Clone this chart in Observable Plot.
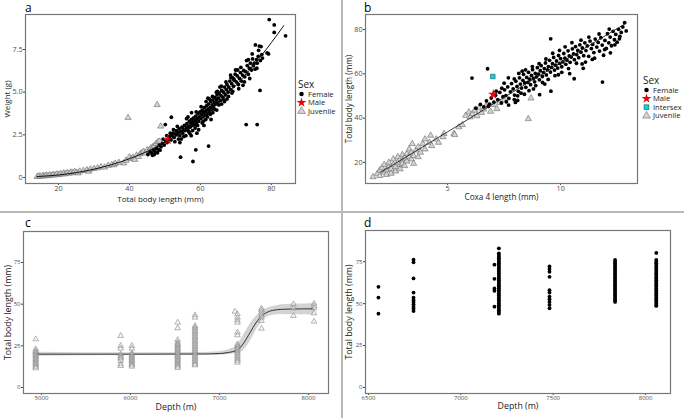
<!DOCTYPE html>
<html><head><meta charset="utf-8">
<script src="https://cdn.jsdelivr.net/npm/d3@7"></script>
<script src="https://cdn.jsdelivr.net/npm/@observablehq/plot@0.6"></script>
<style>
body{margin:0;background:#fff;font-family:"Open Sans",sans-serif;}
#wrap{position:relative;width:684px;height:418px;overflow:hidden;background:#fff}
.panel{position:absolute}
.letter{position:absolute;font-size:12px;line-height:12px;color:#000;font-family:"Open Sans",sans-serif}
.divv{position:absolute;left:341px;top:0;width:1.5px;height:418px;background:#b8b8b8}
.divh{position:absolute;left:0;top:211px;width:684px;height:1.5px;background:#b8b8b8}
</style></head>
<body><div id="wrap"><div class="divv"></div><div class="divh"></div></div>
<script>
// ---------- Panel a: weight vs total body length ----------
const aFemale = [[45.2,1.35],[45.8,1.5],[46.3,1.42],[46.8,1.6],[47.2,1.52],[47.6,1.72],[48.1,1.65],[48.4,1.9],[48.9,1.8],[49.3,2.0],[49.8,1.9],[50.2,2.15],[50.6,2.05],
[51.0,2.25],[51.3,2.4],[51.7,2.2],[52.0,2.45],[52.3,2.6],[52.6,2.35],[52.9,2.55],[53.2,2.75],[53.4,2.5],[53.7,2.65],[54.0,2.85],[54.2,2.45],[54.5,2.7],[54.8,2.95],[55.0,2.6],[55.2,2.8],[55.5,3.05],[55.7,2.75],[52.8,2.1],[54.2,2.05],
[56.0,2.9],[56.2,3.15],[56.4,2.8],[56.7,3.0],[56.9,3.3],[57.1,2.95],[57.3,3.15],[57.5,3.4],[57.7,3.05],[57.9,3.25],[58.1,3.5],[58.3,3.1],[58.5,3.35],[58.7,3.6],[58.9,3.2],[59.1,3.45],[59.3,3.75],[59.5,3.3],[59.7,3.55],[59.9,3.85],[57.4,2.45],[56.7,2.7],[58.5,2.9],[59.5,2.8],[57.5,3.8],[56.5,3.55],
[60.1,3.45],[60.3,3.7],[60.5,3.95],[60.7,3.55],[60.9,3.8],[61.1,4.1],[61.3,3.65],[61.5,3.9],[61.7,4.2],[61.9,3.75],[62.1,4.0],[62.3,4.3],[62.5,3.85],[62.7,4.1],[62.9,4.45],[63.1,4.0],[63.3,4.25],[63.5,4.55],[63.7,4.15],[63.9,4.4],[64.1,4.7],[64.3,4.3],[64.5,4.55],[64.7,4.85],[64.9,4.4],[60.5,3.2],[61.5,3.4],[62.5,4.6],[63.5,3.8],[64.5,5.0],
[65.1,4.65],[65.3,4.95],[65.6,4.5],[65.8,4.8],[66.0,5.1],[66.3,4.7],[66.5,5.0],[66.8,5.3],[67.0,4.85],[67.3,5.15],[67.5,5.45],[67.8,5.0],[68.0,5.3],[68.3,5.65],[68.5,5.15],[68.8,5.5],[69.0,5.85],[69.3,5.35],[69.5,5.7],[69.8,6.05],[66.0,4.3],[67.5,4.6],[68.5,6.0],[69.4,5.78],[65.5,5.3],
[70.1,5.6],[70.4,5.95],[70.7,5.45],[71.0,5.8],[71.3,6.15],[71.6,5.65],[71.9,6.0],[72.2,6.27],[72.5,5.9],[72.8,6.2],[73.2,6.56],[73.5,6.05],[73.8,6.4],[74.1,6.7],[74.4,6.3],[74.6,7.24],[74.9,6.55],[70.5,6.3],[72.0,5.4],[73.5,6.9],
[75.2,6.7],[75.5,7.77],[75.8,6.9],[76.0,6.7],[76.3,7.1],[76.6,7.7],[76.9,6.85],[77.1,7.67],[77.3,7.2],[76.0,3.1],[76.8,5.1],[72.9,3.1],[75.4,6.35],
[79.2,7.24],[79.4,9.25],[80.8,8.94],[80.8,8.5],[84.0,8.3],[78.8,7.3],
[53.5,3.0],[55.3,2.4],[56.1,3.45],[57.8,2.75],[58.8,3.85],[59.2,3.05],[60.2,4.15],[60.8,3.3],[61.6,4.45],[62.0,3.55],[62.8,3.7],[63.4,4.75],[64.0,4.0],[64.8,5.05],[65.2,4.25],[65.9,5.35],[66.6,4.55],[67.2,5.6],[67.9,4.75],[68.6,5.85],[69.1,5.05],[69.9,6.3],[70.8,5.2],[71.4,6.45],[72.4,5.6],[73.0,6.85],[73.9,5.8],[74.7,6.95],[75.9,6.4],[76.4,7.45],[77.5,7.0],[62.1,4.65],[63.0,3.4],[64.6,3.95],[66.8,4.45],[68.9,4.95],[61.0,3.05],[59.0,2.6],[57.0,2.6],[55.9,2.45],[54.6,2.25],[53.8,2.25],[52.4,2.8],[51.5,2.6],[50.5,2.45],[49.5,2.25],[48.6,1.6],[47.9,1.45],[47.0,1.35],[46.5,1.3],
[51.8,3.53],[50.1,3.1],[54.4,1.19],[57.9,0.94],[58.7,1.62],[62.3,1.84]];
const aMale = [[50.8,2.2]];
const aJuvenile = [[14,0.05],[14.5,0.09],[15,0.06],[15.6,0.11],[16,0.08],[16.5,0.13],[17,0.1],[17.5,0.15],[18,0.12],[18.5,0.17],[19,0.14],[19.5,0.2],[20,0.16],[20.5,0.22],[21,0.19],[21.5,0.25],[22,0.21],[22.5,0.28],[23,0.24],[23.5,0.31],[24,0.27],[24.5,0.34],[25,0.3],[25.5,0.26],[26,0.36],[27,0.4],[28,0.44],[28.5,0.36],[29,0.48],[30,0.52],[31,0.56],[32,0.62],[33,0.6],[34,0.7],[35,0.74],[35.6,0.74],[36,0.82],[37,0.88],[38.4,0.84],[39,1.0],[40,1.2],[40.5,1.1],[41,1.18],[41.5,1.05],[42,1.3],[42.5,1.22],[43,1.38],[43.5,1.45],[44,1.52],[44.5,1.42],[45,1.62],[45.5,1.58],[46,1.72],[46.5,1.78],[47,1.85],[47.5,1.98],[48,2.08],[48.5,2.12],
[39.6,3.5],[47.8,4.26],[48.8,3.0]];
const aCurveL = [14, 20, 30, 40, 50, 60, 70, 80, 83.5];
const aCurveW = [0.06, 0.15, 0.49, 1.1, 2.05, 3.45, 5.4, 7.9, 8.9];

// ---------- Panel b: total body length vs coxa 4 length ----------
const bFemale = [[6.25,44.5],[6.45,46.2],[6.6,45.1],[6.72,47.8],[6.85,46.3],[6.93,49.1],[7.05,47.2],[7.12,50.3],[7.22,48.4],[7.31,51.6],[7.38,46.9],[7.45,49.7],[7.52,52.8],[7.58,50.2],[7.66,54.1],[7.71,48.9],[7.78,51.9],[7.83,55.6],[7.9,53.2],[7.96,50.4],[8.02,56.7],[8.07,54.3],[8.13,52.1],[8.18,58.2],[8.22,55.4],[8.27,53.6],[8.33,57.1],[8.36,59.8],[8.41,55.9],[8.46,53.9],[8.5,58.4],[8.55,56.2],[8.58,60.7],[8.63,57.6],[8.67,55.1],[8.71,59.3],[8.76,61.9],[8.8,57.9],[8.85,56.4],[8.88,60.2],[8.93,58.6],[8.97,62.8],[9.02,59.9],[9.06,57.3],[9.1,61.4],[9.14,63.7],[9.19,58.8],[9.24,60.6],[9.28,62.4],[9.33,64.9],[9.37,59.5],[9.42,61.8],[9.46,63.3],[9.51,66.1],[9.55,60.8],[9.6,62.9],[9.64,64.6],[9.69,67.4],[9.73,61.7],[9.78,63.9],[9.82,65.8],[9.87,62.6],[9.91,68.3],[9.96,64.7],[10.0,66.9],[10.05,63.2],[10.1,65.4],[10.14,69.2],[10.19,67.1],[10.23,64.3],[10.28,66.2],[10.33,70.4],[10.38,68.1],[10.42,65.2],[10.47,67.6],[10.52,71.3],[10.57,69.0],[10.61,66.4],[10.66,72.3],[10.71,68.7],[10.76,70.6],[10.8,67.3],[10.85,73.1],[10.9,69.8],[10.96,71.7],[11.02,68.2],[11.07,74.0],[11.12,70.5],[11.18,72.6],[11.24,67.9],[11.3,74.8],[11.36,71.4],[11.42,73.3],[11.47,69.6],[11.53,75.7],[11.6,72.1],[11.66,74.2],[11.72,70.3],[11.78,76.3],[11.84,73.0],[11.9,68.4],[11.96,75.1],[12.02,71.5],[12.07,78.1],[12.13,74.0],[12.19,76.6],[12.25,72.7],[12.32,79.2],[12.38,75.4],[12.44,77.8],[12.5,74.3],[12.56,80.1],[12.62,76.9],[12.68,78.7],[12.75,81.2],[12.83,83.1],[12.9,79.4],
[6.8,45.3],[7.15,52.2],[7.4,53.5],[7.6,47.4],[7.95,57.7],[8.3,61.2],[8.1,50.1],
[7.5,55.8],[7.7,45.9],[7.95,48.4],[8.15,60.2],[8.25,51.3],[8.45,61.8],[8.6,52.4],[8.75,63.3],[8.9,54.7],[9.05,64.6],[9.2,56.1],[9.35,66.7],[9.45,57.5],[9.65,69.3],[9.75,59.2],[9.95,70.6],[10.05,60.7],[10.2,72.2],[10.35,62.4],[10.5,74.1],[10.7,64.8],[10.9,75.2],[11.1,65.3],[11.25,76.6],[11.5,67.1],[11.7,78.0],[11.95,71.0],[12.15,80.2],[12.4,73.1],[12.6,75.8],[12.2,69.5],[11.0,62.5],[10.4,60.1],[9.9,59.6],[9.3,55.4],[8.8,53.2],[8.4,50.8],[8.0,47.1],
[6.77,62.3],[6.08,58.1],[9.56,75.8],[11.85,56.3],[10.6,57.8],[9.07,50.6],[9.57,52.2],[7.69,58.2],[8.1,48],[11.4,66.5],[10.95,64.5]];
const bMale = [[7.02,50.7]];
const bIntersex = [[7.0,58.8]];
const bJuvenile = [[1.7,13.5],[1.9,15],[2.0,16.5],[2.0,14],[2.1,17.5],[2.2,15.5],[2.2,19],[2.3,16.5],[2.3,14.5],[2.4,18],[2.4,20],[2.5,17],[2.5,15],[2.6,19],[2.6,21.5],[2.7,18],[2.7,16],[2.8,20],[2.8,22.5],[2.9,19],[2.9,17],[3.0,21],[3.0,23.5],[3.0,19.5],[3.1,22],[3.1,18.5],[3.2,24],[3.2,20.5],[3.3,22.5],[3.3,26],[3.4,21.5],[3.44,28.4],[3.4,24.5],[3.5,23],[3.5,19.5],[3.6,25.5],[3.7,22.5],[3.7,27],[3.8,24.5],[3.9,28.5],[4.0,26],[4.0,30.5],[4.2,29],[4.25,32.2],[4.3,27.5],[4.5,30.5],[4.6,29],[4.84,33],[4.8,31.5],[5.28,33],[5.32,32.5],[5.5,36],[5.65,37],[5.8,41.2],[5.94,42.7],[6.0,40.5],[6.1,42],[6.2,43.5],[6.3,41],[6.4,44.5],[6.5,42.5],[6.6,44],[6.7,45.5],[6.9,43],[7.0,46],[7.18,44.2],[7.3,47],[7.5,48],
[8.57,39.7],[8.69,49]];
const bLineX = [2.05, 5, 10, 12.9];
const bLineY = [15.6, 33.8, 65, 82.9];

// ---------- Panel c: juvenile length vs depth ----------
const cDepths = [4935, 5890, 6015, 6530, 6725, 7175, 7202, 7472, 7831, 8063];
const cLengths = [
 [29, 23, 22, 21.2, 20.4, 19.6, 18.8, 18, 17.2, 16.4, 15.6, 14.8, 14, 13.2, 12.4, 11.6],
 [31, 25, 23.4, 20, 19, 18, 17.4, 16, 14, 13],
 [25, 23.4, 20.6, 19.8, 19, 18.2, 17.4, 16.6, 15.8, 15, 14.2, 13.4, 12.6],
 [39, 35.6, 28.6, 27, 26.2, 25.4, 24.6, 23.8, 23, 22.2, 21.4, 20.6, 19.8, 19, 18.2, 17.4, 16.6, 15.8, 15, 14.2, 13.4, 12.6, 11.8],
 [43.4, 42, 37, 36, 35, 34, 33, 32, 31, 30, 29, 28, 27, 26, 25, 24, 23, 22, 21, 20, 19, 18, 17, 16, 15, 14, 13.4],
 [45.6],
 [44, 42, 40.4, 39, 33, 31.4, 26, 25, 24, 23, 22, 21, 20, 19, 18, 17, 16, 15],
 [47.4, 46.4, 45, 43.4, 42, 40, 35.4],
 [50, 47.6, 43],
 [50.4, 49, 47.6, 44.6, 39.6]
];
const cCurveDepth = [4935, 6000, 6800, 7000, 7100, 7200, 7250, 7300, 7350, 7400, 7450, 7500, 7550, 7600, 7700, 7800, 8063];
const cCurveLen   = [20, 20, 20.1, 20.4, 21, 22.5, 25, 29, 33.5, 38, 41.5, 44, 45.5, 46.3, 46.9, 47.1, 47.2];
const cBandLow    = [18.8, 19.2, 19.3, 19.4, 19.8, 20.5, 21.5, 24, 28, 33, 37.5, 41, 42.5, 43.3, 43.8, 43.6, 43.5];
const cBandHigh   = [21.2, 20.8, 21, 21.5, 22.6, 25.5, 29.5, 34, 38.5, 42, 44.5, 46.5, 47.8, 48.6, 49.6, 50, 50.3];

// ---------- Panel d: adult length vs depth ----------
const dDepths = [6554, 6744, 7182, 7206, 7480, 7835, 8058];
const dLengths = [
 [60, 53.6, 44],
 [76.2, 74.6, 65, 56.6, 53.6, 52.2, 51, 49.6, 48.2, 47, 45.6],
 [73.2, 64.8, 59, 57.6, 48.2],
 [83, 80, 79, 78, 77, 76, 75, 74, 73, 72, 71, 70, 69, 68, 67, 66, 65, 64, 63, 62, 61, 60, 59, 58, 57, 56, 55, 54, 53, 52, 51, 50, 49, 48, 47, 46, 45, 44],
 [72.2, 70.6, 69, 66, 58, 56.6, 54.2, 52.6, 51, 49.2, 47.2],
 [76, 75, 74, 73, 72, 71, 70, 69, 68, 67, 66, 65, 64, 63, 62, 61, 60, 59, 58, 57, 56, 55, 54, 53, 52, 51],
 [80.2, 76, 75, 74, 73, 72, 71, 70, 69, 68, 67, 66, 65, 64, 63, 62, 61, 60, 59, 58, 57, 56, 55, 54, 53, 52, 51, 50, 49, 48.6]
];

const sexLabels = ["Female", "Male", "Intersex", "Juvenile"];

// ---------- styles ----------
const FONT = "Open Sans";
const triStyle = {symbol: "triangle", r: 2.3, fill: "#d4d4d4", stroke: "#6a6a6a", strokeWidth: 0.6};
const femStyle = {symbol: "circle", r: 1.9, fill: "#000"};
const maleStyle = {symbol: "star", r: 3.2, fill: "#e8000b"};
const interStyle = {symbol: "square", r: 2.6, fill: "#00d8e0", stroke: "#333", strokeWidth: 0.5};

function pairs(xs, ys){ return xs.map((x,i)=>[x, ys[i]]); }
function strips(depths, lens){ return depths.flatMap((d,i)=>lens[i].map(v=>[d, v])); }

function makePanel(o){
  const p = Plot.plot({
    width: o.width, height: o.height,
    marginLeft: o.ml, marginRight: o.mr, marginTop: o.mt, marginBottom: o.mb,
    x: {domain: o.xdomain}, y: {domain: o.ydomain},
    style: {fontFamily: FONT, fontSize: o.tickFont + "px", color: "#4d4d4d", background: "transparent", overflow: "visible"},
    marks: [
      Plot.axisX({ticks: o.xticks, tickSize: 2, tickPadding: 0, tickFormat: o.xfmt, stroke: "#444", label: null}),
      Plot.axisY({ticks: o.yticks, tickSize: 2, tickPadding: 1, tickFormat: o.yfmt, stroke: "#444", label: null}),
      ...o.marks,
      Plot.frame({stroke: "#777", strokeWidth: 1.2}),
      Plot.text([o.xlabel], {frameAnchor: "bottom", lineAnchor: "middle", textAnchor: "middle", dy: o.xdy, fontSize: o.labelFont, fill: "#222", fontFamily: FONT}),
      Plot.text([o.ylabel], {frameAnchor: "left", lineAnchor: "middle", textAnchor: "middle", dx: o.ydx, rotate: -90, fontSize: o.labelFont, fill: "#222", fontFamily: FONT})
    ]
  });
  p.classList.add("panel");
  p.style.left = o.left + "px";
  p.style.top = o.top + "px";
  p.style.position = "absolute";
  document.getElementById("wrap").appendChild(p);
}

function letter(t, left, top){
  const d = document.createElement("div");
  d.className = "letter"; d.textContent = t;
  d.style.left = left + "px"; d.style.top = top + "px";
  document.getElementById("wrap").appendChild(d);
}

function legend(left, top, items){
  const svg = d3.create("svg").attr("width", 44).attr("height", 50)
    .style("position","absolute").style("left", left+"px").style("top", top+"px").style("overflow","visible");
  svg.append("text").attr("x", 1).attr("y", 11.5).text("Sex")
    .attr("font-family", FONT).attr("font-size", 10).attr("fill", "#222");
  const sym = {circle: d3.symbolCircle, star: d3.symbolStar, square: d3.symbolSquare, triangle: d3.symbolTriangle};
  items.forEach((it, i) => {
    const y = 18 + i * 8.6;
    const size = {circle: 16, star: 30, square: 24, triangle: 26}[it.s.symbol];
    svg.append("path").attr("d", d3.symbol(sym[it.s.symbol], size)())
      .attr("transform", `translate(4.5,${y})`)
      .attr("fill", it.s.fill).attr("stroke", it.s.stroke || "none").attr("stroke-width", it.s.strokeWidth || 0);
    svg.append("text").attr("x", 11).attr("y", y).attr("dy", "0.35em").text(it.label)
      .attr("font-family", FONT).attr("font-size", 7.6).attr("fill", "#222");
  });
  document.getElementById("wrap").appendChild(svg.node());
}

// Panel a
makePanel({left: 0, top: 0, width: 300, height: 209, ml: 25, mr: 5, mt: 14, mb: 26, tickFont: 7.2, labelFont: 8,
  xdomain: [10.7, 86.8], ydomain: [-0.35, 9.55], xticks: [20, 40, 60, 80], yticks: [0, 2.5, 5, 7.5],
  yfmt: d => d === 0 ? "0" : d.toFixed(1), xlabel: "Total body length (mm)", ylabel: "Weight (g)", xdy: 15.5, ydx: -18,
  marks: [
    Plot.dot(aJuvenile, {x: d => d[0], y: d => d[1], ...triStyle}),
    Plot.dot(aFemale, {x: d => d[0], y: d => d[1], ...femStyle}),
    Plot.dot(aMale, {x: d => d[0], y: d => d[1], ...maleStyle}),
    Plot.line(pairs(aCurveL, aCurveW), {x: d => d[0], y: d => d[1], stroke: "#111", strokeWidth: 1, curve: "monotone-x"})
  ]});
letter("a", 25, 1.5);
legend(297, 76, [{label: sexLabels[0], s: femStyle}, {label: sexLabels[1], s: maleStyle}, {label: sexLabels[3], s: triStyle}]);

// Panel b
makePanel({left: 342, top: 0, width: 300, height: 209, ml: 23, mr: 5, mt: 14, mb: 26, tickFont: 7.2, labelFont: 8.2,
  xdomain: [1.37, 13.4], ydomain: [10.5, 86.8], xticks: [5, 10], yticks: [20, 40, 60, 80],
  xlabel: "Coxa 4 length (mm)", ylabel: "Total body length (mm)", xdy: 14, ydx: -16,
  marks: [
    Plot.dot(bJuvenile, {x: d => d[0], y: d => d[1], ...triStyle}),
    Plot.dot(bFemale, {x: d => d[0], y: d => d[1], ...femStyle}),
    Plot.line(pairs(bLineX, bLineY), {x: d => d[0], y: d => d[1], stroke: "#222", strokeWidth: 0.9}),
    Plot.dot(bMale, {x: d => d[0], y: d => d[1], ...maleStyle}),
    Plot.dot(bIntersex, {x: d => d[0], y: d => d[1], ...interStyle})
  ]});
letter("b", 364, 1.5);
legend(642, 72, [{label: sexLabels[0], s: femStyle}, {label: sexLabels[1], s: maleStyle}, {label: sexLabels[2], s: interStyle}, {label: sexLabels[3], s: triStyle}]);

// Panel c
const cCurve = cCurveDepth.map((d,i)=>({d, m: cCurveLen[i], lo: cBandLow[i], hi: cBandHigh[i]}));
makePanel({left: 0, top: 212, width: 340, height: 206, ml: 23, mr: 12, mt: 19, mb: 25, tickFont: 6, labelFont: 8.8,
  xdomain: [4798, 8225], ydomain: [-3.6, 93.6], xticks: [5000, 6000, 7000, 8000], yticks: [0, 25, 50, 75],
  xfmt: d3.format("d"), xlabel: "Depth (m)", ylabel: "Total body length (mm)", xdy: 13.5, ydx: -15.7,
  marks: [
    Plot.areaY(cCurve, {x: "d", y1: "lo", y2: "hi", fill: "#c8c8c8", fillOpacity: 0.8, curve: "monotone-x"}),
    Plot.line(cCurve, {x: "d", y: "m", stroke: "#333", strokeWidth: 1, curve: "monotone-x"}),
    Plot.dot(strips(cDepths, cLengths), {x: d => d[0], y: d => d[1], ...triStyle, r: 2.1, stroke: "#7a7a7a", strokeWidth: 0.55, fill: "#eeeeee", fillOpacity: 0.5})
  ]});
letter("c", 25, 217);

// Panel d
makePanel({left: 342, top: 212, width: 342, height: 206, ml: 23, mr: 14, mt: 18, mb: 25, tickFont: 6, labelFont: 8.8,
  xdomain: [6484, 8135], ydomain: [-3.6, 93.6], xticks: [6500, 7000, 7500, 8000], yticks: [0, 25, 50, 75],
  xfmt: d3.format("d"), xlabel: "Depth (m)", ylabel: "Total body length (mm)", xdy: 13, ydx: -16,
  marks: [
    Plot.dot(strips(dDepths, dLengths), {x: d => d[0], y: d => d[1], ...femStyle})
  ]});
letter("d", 364, 217);
</script>
</body></html>
